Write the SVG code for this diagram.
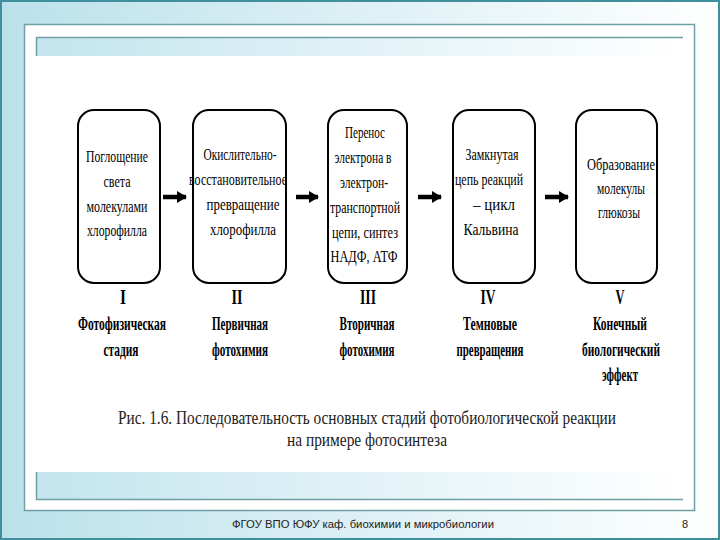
<svg xmlns="http://www.w3.org/2000/svg" width="720" height="540" viewBox="0 0 720 540">
  <defs>
    <linearGradient id="bg" x1="0" y1="0" x2="1" y2="0">
      <stop offset="0" stop-color="#bbe1eb"/>
      <stop offset="1" stop-color="#ffffff"/>
    </linearGradient>
    <linearGradient id="band" x1="0" y1="0" x2="1" y2="0">
      <stop offset="0" stop-color="#c3e5ee"/>
      <stop offset="1" stop-color="#ffffff"/>
    </linearGradient>
    <marker id="ah" markerUnits="userSpaceOnUse" markerWidth="10" markerHeight="12" refX="9" refY="6" orient="auto">
      <path d="M0,0 L10,6 L0,12 Z" fill="#000"/>
    </marker>
  </defs>
  <style>
    .box { fill: #fff; stroke: #000; stroke-width: 2; }
    .bt { font-family: "Liberation Serif", "DejaVu Serif", serif; font-size: 17.5px; fill: #000; text-anchor: middle; }
    .rn { font-family: "Liberation Serif", "DejaVu Serif", serif; font-size: 20px; font-weight: bold; fill: #000; text-anchor: middle; }
    .lb { font-family: "Liberation Serif", "DejaVu Serif", serif; font-size: 18px; font-weight: bold; fill: #000; text-anchor: middle; }
    .cap { font-family: "Liberation Serif", "DejaVu Serif", serif; font-size: 18.5px; fill: #222; text-anchor: middle; }
    .ft { font-family: "Liberation Sans", Arial, sans-serif; font-size: 11px; fill: #222; }
    .arr { stroke: #000; stroke-width: 4.5; fill: none; }
  </style>

  <!-- slide background -->
  <rect x="1" y="1" width="718" height="538" fill="url(#bg)" stroke="#3f8f9c" stroke-width="2"/>
  <rect x="24.5" y="24.5" width="670" height="486" fill="#fff" stroke="#6f9ea5" stroke-width="1.5"/>
  <rect x="36" y="37" width="647" height="19" fill="url(#band)"/>
  <path d="M36.5,56 V37.5 H683" fill="none" stroke="#6f9ea5" stroke-width="1.5"/>
  <rect x="36" y="472" width="647" height="28" fill="url(#band)"/>
  <path d="M36.5,472 V499.5 H683" fill="none" stroke="#6f9ea5" stroke-width="1.5"/>
  <text class="ft" x="363" y="528" text-anchor="middle" textLength="262" lengthAdjust="spacingAndGlyphs">ФГОУ ВПО ЮФУ  каф. биохимии и микробиологии</text>
  <text class="ft" x="685" y="528" text-anchor="middle">8</text>

  <!-- connectors -->
  <g id="connectors">
    <line class="arr" x1="163" y1="197" x2="186" y2="197" marker-end="url(#ah)"/>
    <line class="arr" x1="296" y1="197" x2="318" y2="197" marker-end="url(#ah)"/>
    <line class="arr" x1="418" y1="197" x2="441" y2="197" marker-end="url(#ah)"/>
    <line class="arr" x1="545" y1="197" x2="568" y2="197" marker-end="url(#ah)"/>
  </g>

  <g id="stage1">
    <rect class="box" x="78" y="110" width="82" height="173" rx="16" ry="16"/>
    <text class="bt" x="117" y="162" textLength="62" lengthAdjust="spacingAndGlyphs">Поглощение</text>
    <text class="bt" x="117" y="187" textLength="27" lengthAdjust="spacingAndGlyphs">света</text>
    <text class="bt" x="117" y="212" textLength="61" lengthAdjust="spacingAndGlyphs">молекулами</text>
    <text class="bt" x="117" y="236" textLength="60" lengthAdjust="spacingAndGlyphs">хлорофилла</text>
    <text class="rn" x="123" y="304" textLength="6" lengthAdjust="spacingAndGlyphs">I</text>
    <text class="lb" x="122" y="330" textLength="88" lengthAdjust="spacingAndGlyphs">Фотофизическая</text>
    <text class="lb" x="121" y="356" textLength="35" lengthAdjust="spacingAndGlyphs">стадия</text>
  </g>

  <g id="stage2">
    <rect class="box" x="193" y="110" width="93" height="173" rx="16" ry="16"/>
    <text class="bt" x="240" y="160" textLength="73" lengthAdjust="spacingAndGlyphs">Окислительно-</text>
    <text class="bt" x="238" y="185" textLength="98" lengthAdjust="spacingAndGlyphs">восстановительное</text>
    <text class="bt" x="243" y="210" textLength="73" lengthAdjust="spacingAndGlyphs">превращение</text>
    <text class="bt" x="243" y="235" textLength="66" lengthAdjust="spacingAndGlyphs">хлорофилла</text>
    <text class="rn" x="237" y="304" textLength="11" lengthAdjust="spacingAndGlyphs">II</text>
    <text class="lb" x="240" y="330" textLength="56" lengthAdjust="spacingAndGlyphs">Первичная</text>
    <text class="lb" x="240" y="356" textLength="56" lengthAdjust="spacingAndGlyphs">фотохимия</text>
  </g>

  <g id="stage3">
    <rect class="box" x="328" y="110" width="79" height="173" rx="16" ry="16"/>
    <text class="bt" x="365" y="138" textLength="40" lengthAdjust="spacingAndGlyphs">Перенос</text>
    <text class="bt" x="363" y="163" textLength="57" lengthAdjust="spacingAndGlyphs">электрона в</text>
    <text class="bt" x="364" y="188" textLength="48" lengthAdjust="spacingAndGlyphs">электрон-</text>
    <text class="bt" x="365" y="213" textLength="70" lengthAdjust="spacingAndGlyphs">транспортной</text>
    <text class="bt" x="365" y="238" textLength="66" lengthAdjust="spacingAndGlyphs">цепи, синтез</text>
    <text class="bt" x="364" y="262" textLength="67" lengthAdjust="spacingAndGlyphs">НАДФ, АТФ</text>
    <text class="rn" x="368" y="304" textLength="16" lengthAdjust="spacingAndGlyphs">III</text>
    <text class="lb" x="367" y="330" textLength="55" lengthAdjust="spacingAndGlyphs">Вторичная</text>
    <text class="lb" x="367" y="356" textLength="55" lengthAdjust="spacingAndGlyphs">фотохимия</text>
  </g>

  <g id="stage4">
    <rect class="box" x="453" y="110" width="82" height="173" rx="16" ry="16"/>
    <text class="bt" x="492" y="160" textLength="53" lengthAdjust="spacingAndGlyphs">Замкнутая</text>
    <text class="bt" x="489" y="185" textLength="68" lengthAdjust="spacingAndGlyphs">цепь реакций</text>
    <text class="bt" x="494" y="210" textLength="42" lengthAdjust="spacingAndGlyphs">– цикл</text>
    <text class="bt" x="491" y="235" textLength="55" lengthAdjust="spacingAndGlyphs">Кальвина</text>
    <text class="rn" x="488" y="304" textLength="15" lengthAdjust="spacingAndGlyphs">IV</text>
    <text class="lb" x="490" y="330" textLength="54" lengthAdjust="spacingAndGlyphs">Темновые</text>
    <text class="lb" x="490" y="356" textLength="67" lengthAdjust="spacingAndGlyphs">превращения</text>
  </g>

  <g id="stage5">
    <rect class="box" x="576" y="110" width="81" height="173" rx="16" ry="16"/>
    <text class="bt" x="621" y="170" textLength="68" lengthAdjust="spacingAndGlyphs">Образование</text>
    <text class="bt" x="621" y="194" textLength="48" lengthAdjust="spacingAndGlyphs">молекулы</text>
    <text class="bt" x="619" y="218" textLength="42" lengthAdjust="spacingAndGlyphs">глюкозы</text>
    <text class="rn" x="620" y="304" textLength="9" lengthAdjust="spacingAndGlyphs">V</text>
    <text class="lb" x="620" y="330" textLength="54" lengthAdjust="spacingAndGlyphs">Конечный</text>
    <text class="lb" x="621" y="356" textLength="78" lengthAdjust="spacingAndGlyphs">биологический</text>
    <text class="lb" x="620" y="381" textLength="36" lengthAdjust="spacingAndGlyphs">эффект</text>
  </g>

  <g id="caption">
    <text class="cap" x="367" y="424" textLength="498" lengthAdjust="spacingAndGlyphs">Рис. 1.6. Последовательность основных стадий фотобиологической реакции</text>
    <text class="cap" x="367" y="446" textLength="160" lengthAdjust="spacingAndGlyphs">на примере фотосинтеза</text>
  </g>
</svg>
